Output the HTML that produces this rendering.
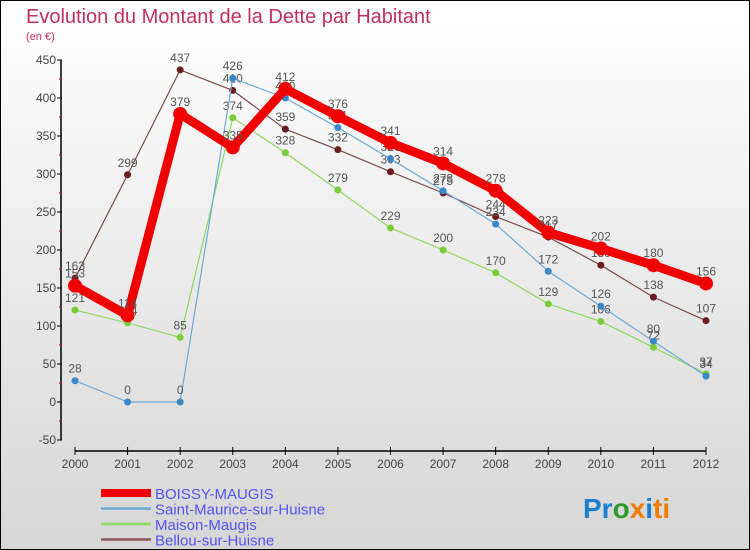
<!DOCTYPE html>
<html><head><meta charset="utf-8"><style>
body{margin:0}
#c{width:748px;height:548px;border:1px solid #000;background:linear-gradient(#fff,#d6d6d6);position:relative;font-family:"Liberation Sans",sans-serif;overflow:hidden}
</style></head><body>
<div id="c">
<svg id="s" width="748" height="548" xmlns="http://www.w3.org/2000/svg">
<text x="25" y="22" font-size="20" fill="#c0305e" font-weight="300">Evolution du Montant de la Dette par Habitant</text>
<text x="25" y="39" font-size="11" fill="#c0305e">(en €)</text>
<g id="axes"></g><g id="series"></g><g id="legend"></g>
<text x="582" y="517" font-size="28" font-weight="bold"><tspan fill="#1a7fd0">Pr</tspan><tspan fill="#2e9a2e">o</tspan><tspan fill="#f07d00">x</tspan><tspan fill="#1a7fd0">i</tspan><tspan fill="#f07d00">ti</tspan></text>
</svg></div>
<script>
const years=[2000,2001,2002,2003,2004,2005,2006,2007,2008,2009,2010,2011,2012];
const yTicks=[-50,0,50,100,150,200,250,300,350,400,450];
const names=["BOISSY-MAUGIS","Saint-Maurice-sur-Huisne","Maison-Maugis","Bellou-sur-Huisne"];
const boissy=[153,114,379,335,412,376,341,314,278,223,202,180,156];
const stMaurice=[28,0,0,426,400,361,320,278,234,172,126,80,34];
const maison=[121,104,85,374,328,279,229,200,170,129,106,72,37];
const bellou=[163,299,437,410,359,332,303,275,244,217,180,138,107];
const NS="http://www.w3.org/2000/svg";
const X=i=>74+i*(705-74)/12;
const Y=v=>401-v*0.76;
function mk(t,a,p){const e=document.createElementNS(NS,t);for(const k in a)e.setAttribute(k,a[k]);p.appendChild(e);return e;}
const ax=document.getElementById('axes');
const yl=mk('line',{x1:60,y1:Y(450),x2:60,y2:Y(-50),stroke:'#000','stroke-width':1.5},ax);


yTicks.forEach(v=>{
 const t=mk('line',{x1:56,y1:Y(v),x2:61,y2:Y(v),stroke:'#000'},ax);
 
 
 if(v<450) mk('line',{x1:58,y1:Y(v+25),x2:61,y2:Y(v+25),stroke:'#d00'},ax);
 const l=mk('text',{x:55,y:Y(v)+4,'font-size':12,'text-anchor':'end',fill:'#444'},ax);l.textContent=v;
 
 
});
const xl=mk('line',{x1:X(0),y1:450,x2:X(12),y2:450,stroke:'#000','stroke-width':1.5},ax);


years.forEach((y,i)=>{
 mk('line',{x1:X(i),y1:446,x2:X(i),y2:454,stroke:'#000'},ax);
 const l=mk('text',{x:X(i),y:467,'font-size':12,'text-anchor':'middle',fill:'#444'},ax);l.textContent=y;
 
 
});
const sg=document.getElementById('series');
const defs=[[bellou,'#6b1e1e','#7a4a4a',1.2,3.5],[maison,'#7ccc3a','#8fd860',1.2,3.5],[stMaurice,'#3a88c8','#6aaad8',1.2,3.5],[boissy,'#f00000','#f00000',9,7]];
const slug=['bellou','maison','st-maurice','boissy'];
defs.forEach((d,k)=>{
 const [vals,pc,lc,w,r]=d;
 const g=mk('g',{},sg);
 
 
 mk('polyline',{points:vals.map((v,i)=>X(i)+','+Y(v)).join(' '),fill:'none',stroke:lc,'stroke-width':w,'stroke-linejoin':'round'},g);
 vals.forEach((v,i)=>{
  const c=mk('circle',{cx:X(i),cy:Y(v),r:r,fill:pc},g);
  
  
  const t=mk('text',{x:X(i),y:Y(v)-8,'font-size':12,'text-anchor':'middle',fill:'#555'},g);t.textContent=v;
  
  
 });
});
const lg=document.getElementById('legend');
const lcol=['#f00000','#6aaad8','#8fd860','#8a5a5a'];const lw=[8,2.5,2.5,2.5];
names.forEach((n,i)=>{
 const yy=493+i*15.5;
 const e=mk('g',{},lg);
 
 
 mk('line',{x1:100,y1:yy-1,x2:150,y2:yy-1,stroke:lcol[i],'stroke-width':lw[i]},e);
 const t=mk('text',{x:154,y:yy+5,'font-size':15,fill:'#5555ee'},e);t.textContent=n;
});
</script>
</body></html>
